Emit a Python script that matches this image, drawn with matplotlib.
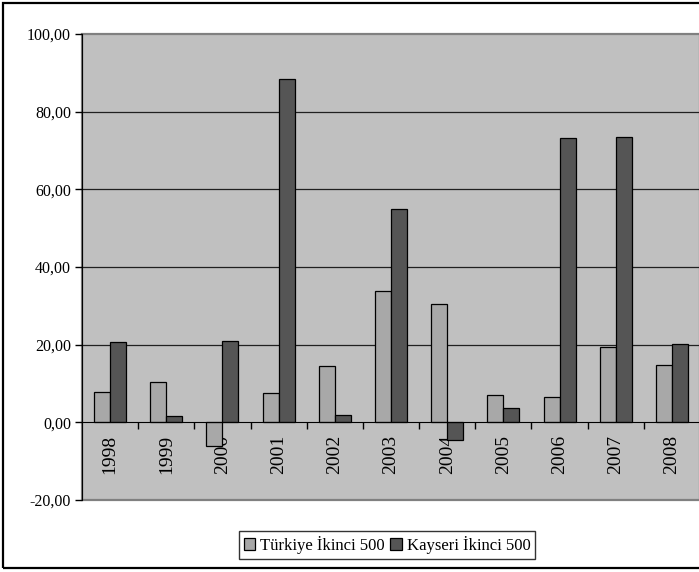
import numpy as np
import matplotlib.pyplot as plt
from matplotlib.patches import Rectangle
from matplotlib.ticker import FixedLocator

plt.rcParams["font.family"] = ["Liberation Serif", "DejaVu Serif"]

years = ["1998", "1999", "2000", "2001", "2002", "2003",
         "2004", "2005", "2006", "2007", "2008"]
turkiye = [7.8, 10.4, -6.2, 7.5, 14.4, 33.8, 30.4, 7.1, 6.5, 19.3, 14.8]
kayseri = [20.6, 1.6, 20.9, 88.5, 2.0, 54.9, -4.6, 3.6, 73.1, 73.6, 20.3]
series_names = ["Türkiye İkinci 500", "Kayseri İkinci 500"]
y_ticks = [-20, 0, 20, 40, 60, 80, 100]

fig = plt.figure(figsize=(6.99, 5.72), dpi=100)
# outer chart border (right edge is cut off in the original)
fig.patches.append(Rectangle((3 / 699, 4 / 572), 1.2, 565 / 572, transform=fig.transFigure,
                             fill=False, edgecolor="black", lw=1.6))

ax = fig.add_axes([82 / 699, 1 - 500 / 572, 618 / 699, 466 / 572])
ax.set_facecolor("#c0c0c0")

x = np.arange(len(years))
w = 0.285
ax.bar(x - w / 2, turkiye, w, color="#a8a8a8", edgecolor="black", lw=0.9,
       label=series_names[0], zorder=3)
ax.bar(x + w / 2, kayseri, w, color="#555555", edgecolor="black", lw=0.9,
       label=series_names[1], zorder=3)

ax.set_xlim(-0.5, len(years) - 0.5)
ax.set_ylim(-20, 100)

# y axis
ax.set_yticks(y_ticks)
ax.set_yticklabels(["{:.2f}".format(v).replace(".", ",") for v in y_ticks], fontsize=11.5)
ax.tick_params(axis="y", direction="out", length=5, width=1, color="black", pad=3)
for v in y_ticks[2:-1]:
    ax.axhline(v, color="#202020", lw=0.9, zorder=1)

# category axis crosses at zero
ax.spines["bottom"].set_position(("data", 0))
ax.spines["bottom"].set_zorder(4)
ax.spines["left"].set_color("black")
ax.spines["top"].set_visible(False)
ax.spines["right"].set_visible(False)
ax.set_xticks(x)
ax.set_xticklabels(years, rotation=90, fontsize=14)
ax.tick_params(axis="x", which="major", length=0, pad=9)
ax.xaxis.set_minor_locator(FixedLocator(np.arange(0.5, len(years) - 0.5)))
ax.tick_params(axis="x", which="minor", direction="out", length=5, width=1)

# plot area frame
ax.add_patch(Rectangle((0, 0), 1, 1, transform=ax.transAxes, fill=False,
                       edgecolor="#808080", lw=1.6, zorder=0, clip_on=False))
ax.spines["left"].set_zorder(5)

fig.legend(loc="center", bbox_to_anchor=(387 / 699, 1 - 545 / 572), ncol=2,
           fontsize=12, frameon=True, fancybox=False, edgecolor="black",
           handlelength=0.7, handleheight=0.7, handletextpad=0.3,
           columnspacing=0.3, borderpad=0.3, borderaxespad=0)

fig.savefig("out.png", dpi=100)
